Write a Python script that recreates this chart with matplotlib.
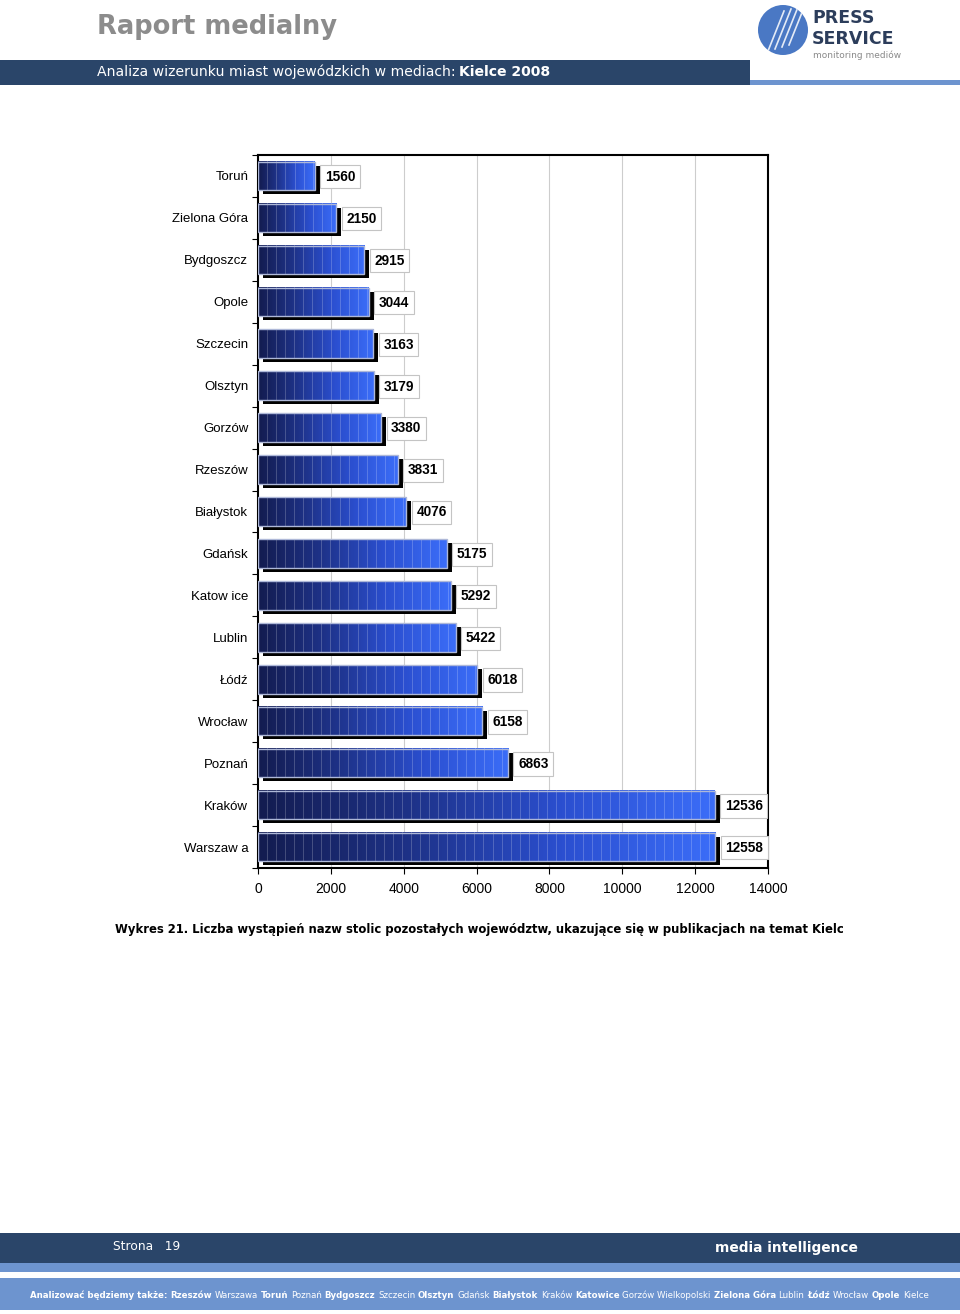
import matplotlib.pyplot as plt
import numpy as np
from matplotlib.colors import LinearSegmentedColormap
from matplotlib.patches import Rectangle, Circle

# dane z wykresu (od góry do dołu)
cities = ["Toruń", "Zielona Góra", "Bydgoszcz", "Opole", "Szczecin", "Olsztyn",
          "Gorzów", "Rzeszów", "Białystok", "Gdańsk", "Katow ice", "Lublin",
          "Łódź", "Wrocław", "Poznań", "Kraków", "Warszaw a"]
counts = [1560, 2150, 2915, 3044, 3163, 3179, 3380, 3831, 4076, 5175, 5292,
          5422, 6018, 6158, 6863, 12536, 12558]
x_ticks = [0, 2000, 4000, 6000, 8000, 10000, 12000, 14000]

footer_cities = [("Rzeszów", True), ("Warszawa", False), ("Toruń", True),
                 ("Poznań", False), ("Bydgoszcz", True), ("Szczecin", False),
                 ("Olsztyn", True), ("Gdańsk", False), ("Białystok", True),
                 ("Kraków", False), ("Katowice", True), ("Gorzów Wielkopolski", False),
                 ("Zielona Góra", True), ("Lublin", False), ("Łódź", True),
                 ("Wrocław", False), ("Opole", True), ("Kielce", False)]

DARK = "#2A4569"
LIGHT = "#6D94CF"

fig = plt.figure(figsize=(9.6, 13.14), dpi=100)

# warstwa tła w pikselach
ov = fig.add_axes([0, 0, 1, 1], zorder=0)
ov.set_xlim(0, 960)
ov.set_ylim(1314, 0)
ov.axis("off")


def row(x, y, pieces, size, color, family="DejaVu Sans", gap=3.5):
    r = fig.canvas.get_renderer()
    for txt, bold in pieces:
        t = ov.text(x, y, txt, fontsize=size, color=color, family=family,
                    fontweight="bold" if bold else "normal", va="center", ha="left")
        x += t.get_window_extent(r).width + gap
    return x


# nagłówek
ov.text(97, 27, "Raport medialny", fontsize=18.5, fontweight="bold", color="#8C8C8C",
        va="center", ha="left")
ov.add_patch(Rectangle((0, 60), 750, 25, color=DARK, lw=0))
ov.add_patch(Rectangle((750, 80), 210, 5, color=LIGHT, lw=0))
row(97, 72, [("Analiza wizerunku miast wojewódzkich w mediach:", False),
             ("Kielce 2008", True)], 10.1, "white")

# logo
logo = Circle((783, 30), 25, color="#4A78C4", lw=0)
ov.add_patch(logo)
for k in range(4):
    ov.plot([768 + k * 7, 784 + k * 7], [51 - k * 2, 11 - k * 2], color="white",
            lw=1.2, alpha=0.85, clip_path=logo)
ov.text(812, 18, "PRESS", fontsize=12.5, fontweight="heavy", color="#2C3D5B",
        va="center", ha="left")
ov.text(812, 39, "SERVICE", fontsize=12.5, fontweight="heavy", color="#2C3D5B",
        va="center", ha="left")
ov.text(813, 55, "monitoring mediów", fontsize=6.5, color="#8A8A8A", va="center", ha="left")

# stopka
ov.add_patch(Rectangle((0, 1233), 960, 30, color=DARK, lw=0))
ov.add_patch(Rectangle((0, 1263), 960, 9, color=LIGHT, lw=0))
ov.add_patch(Rectangle((0, 1278), 960, 32, color=LIGHT, lw=0))
ov.text(113, 1247, "Strona   19", fontsize=8.8, color="white", va="center", ha="left")
ov.text(715, 1248, "media intelligence", fontsize=9.9, fontweight="bold", color="white",
        va="center", ha="left")
row(30, 1295, [("Analizować będziemy także:", True)] + footer_cities, 6.2, "white", gap=2.8)

# podpis
ov.text(479, 929, "Wykres 21. Liczba wystąpień nazw stolic pozostałych województw, "
        "ukazujące się w publikacjach na temat Kielc", fontsize=8.4, fontweight="bold",
        va="center", ha="center", color="black")

# wykres
ax = fig.add_axes([258 / 960, 1 - 868 / 1314, 510 / 960, 713 / 1314], zorder=2)
ax.patch.set_alpha(0)
xmax = 14000
px_x = xmax / 510
px_y = 1 / 42.0
h = 0.68
cmap = LinearSegmentedColormap.from_list("bar", ["#131C50", "#1E3288", "#2B4FD0", "#3B6DF8"])

for xv in x_ticks[1:-1]:
    ax.axvline(xv, color="#CDCDCD", lw=0.8, zorder=0)

for i, v in enumerate(counts):
    ax.add_patch(Rectangle((5 * px_x, i - h / 2 + 4 * px_y), v, h, color="black", lw=0, zorder=2))
    w = max(int(v / px_x), 2)
    img = np.array([cmap(j / (w - 1))[:3] for j in range(w)])
    stripes = (np.arange(w) % 9) == 0
    img[stripes] = img[stripes] * 0.8 + 0.2
    ax.imshow(img[None, :, :], extent=(0, v, i + h / 2, i - h / 2), aspect="auto",
              interpolation="nearest", zorder=3)
    ax.add_patch(Rectangle((0, i - h / 2), v, h, fill=False, ec="#AEB8D8", lw=1, zorder=4))
    ax.annotate(str(v), (v, i + 0.02), xytext=(10, 0), textcoords="offset pixels",
                fontsize=9.8, fontweight="bold", family="Liberation Sans", va="center",
                ha="left", zorder=5,
                bbox=dict(boxstyle="square,pad=0.34", fc="white", ec="#C4C4C4", lw=0.8))

ax.set_xlim(0, xmax)
ax.set_ylim(len(counts) - 0.5, -0.5)
ax.set_xticks(x_ticks)
ax.set_xticklabels([str(t) for t in x_ticks], family="Liberation Sans", fontsize=10)
ax.set_yticks(range(len(counts)))
ax.set_yticklabels(cities, family="Liberation Sans", fontsize=9.5)
ax.tick_params(axis="y", length=0, pad=7)
ax.set_yticks(np.arange(len(counts) + 1) - 0.5, minor=True)
ax.tick_params(axis="y", which="minor", length=4, width=0.8)
ax.tick_params(axis="x", length=4, width=0.8, pad=6)
for s in ax.spines.values():
    s.set_linewidth(1.5)

fig.savefig("out.png", dpi=100)
